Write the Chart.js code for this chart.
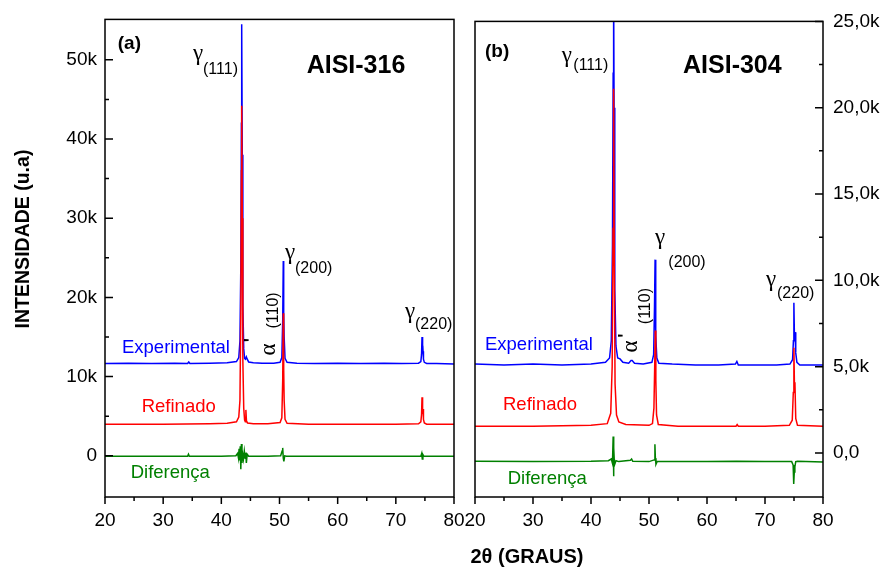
<!DOCTYPE html>
<html>
<head>
<meta charset="utf-8">
<script src="https://cdn.jsdelivr.net/npm/chart.js@4.4.0/dist/chart.umd.min.js"></script>
<style>
  html, body { margin: 0; padding: 0; background: #fff; }
  #wrap { position: relative; width: 883px; height: 573px; }
  #wrap canvas { position: absolute; left: 0; top: 0; }
</style>
</head>
<body>
<div id="wrap">
  <canvas id="chart316" width="883" height="573"></canvas>
  <canvas id="chart304" width="883" height="573"></canvas>
</div>
<script>
// eixo x (2 theta)
var xTicks = [20, 30, 40, 50, 60, 70, 80];

// AISI-316 (painel a)
var ticks316 = [0, 10000, 20000, 30000, 40000, 50000];
var tickLabels316 = ['0', '10k', '20k', '30k', '40k', '50k'];

var exp316X = [20, 24, 28, 32, 34.2, 34.4, 34.6, 38, 41, 42.6, 43.0, 43.2, 43.35, 43.45, 43.5, 43.6, 43.7, 43.85, 44.0, 44.15, 44.3, 44.45, 44.7, 45.5, 47, 49, 50.1, 50.4, 50.55, 50.65, 50.72, 50.8, 50.95, 51.3, 53, 56, 60, 64, 68, 71, 73.9, 74.3, 74.42, 74.5, 74.6, 74.68, 74.75, 74.9, 75.3, 77, 80];
var exp316Y = [11650, 11700, 11650, 11700, 11650, 11850, 11650, 11700, 11750, 11900, 12400, 14500, 24000, 42000, 54500, 38000, 19000, 13500, 12300, 12200, 12500, 12200, 11850, 11750, 11700, 11700, 11800, 12400, 17000, 24600, 18000, 15000, 12300, 11800, 11700, 11650, 11700, 11650, 11700, 11650, 11700, 11900, 12800, 15000, 12900, 13200, 12200, 11800, 11650, 11650, 11600];

var ref316X = [20, 30, 38, 41, 42.6, 43.0, 43.2, 43.35, 43.45, 43.5, 43.6, 43.7, 43.85, 44.0, 44.12, 44.22, 44.32, 44.5, 45.5, 48, 50.1, 50.4, 50.55, 50.65, 50.72, 50.8, 50.95, 51.3, 55, 60, 70, 73.9, 74.3, 74.42, 74.5, 74.6, 74.68, 74.75, 74.9, 75.3, 80];
var ref316Y = [4000, 4000, 4050, 4100, 4300, 4900, 7000, 18000, 36000, 44200, 30000, 12000, 6000, 4500, 4300, 5800, 4400, 4150, 4050, 4050, 4200, 4800, 9500, 18000, 11000, 7000, 4600, 4100, 4000, 4000, 4000, 4050, 4300, 5200, 7400, 5300, 5900, 4600, 4150, 4000, 4000];

var dif316X = [20, 28, 34.2, 34.35, 34.5, 40, 42.5, 42.8, 42.95, 43.05, 43.15, 43.25, 43.35, 43.45, 43.55, 43.65, 43.8, 43.95, 44.1, 44.2, 44.3, 44.45, 44.7, 48, 50.2, 50.45, 50.55, 50.65, 50.75, 50.9, 51.2, 60, 70, 74.3, 74.45, 74.55, 74.65, 74.8, 80];
var dif316Y = [-50, -50, -50, 200, -50, -50, 0, 300, -300, 900, -600, 1200, -1700, 1500, -900, 300, -400, 600, -300, 400, -900, 200, -50, -50, 0, 600, 1000, -300, -700, 0, -50, -50, -50, -50, 300, -400, 150, -50, -50];

// AISI-304 (painel b)
var ticks304 = [0, 5000, 10000, 15000, 20000, 25000];
var tickLabels304 = ['0,0', '5,0k', '10,0k', '15,0k', '20,0k', '25,0k'];

var exp304X = [20, 25, 30, 35, 40, 42.5, 43.2, 43.5, 43.7, 43.82, 43.9, 43.98, 44.1, 44.3, 44.6, 45.0, 45.5, 46.5, 46.9, 47.1, 47.5, 49, 50.5, 50.8, 50.95, 51.05, 51.12, 51.2, 51.35, 51.7, 54, 58, 62, 64.9, 65.15, 65.4, 68, 72, 74.3, 74.75, 74.9, 74.98, 75.08, 75.18, 75.3, 75.5, 76, 80];
var exp304Y = [5150, 5100, 5150, 5100, 5150, 5250, 5500, 6500, 12000, 22000, 27000, 20000, 9500, 6200, 5500, 5450, 5250, 5200, 5350, 5350, 5200, 5150, 5250, 5700, 8500, 11200, 8000, 6800, 5500, 5200, 5150, 5100, 5100, 5150, 5300, 5100, 5100, 5100, 5150, 5400, 6500, 8700, 6600, 7000, 5800, 5250, 5100, 5100];

var ref304X = [20, 30, 40, 42.8, 43.4, 43.65, 43.8, 43.9, 44.0, 44.15, 44.4, 44.8, 46, 50, 50.6, 50.85, 50.98, 51.08, 51.18, 51.3, 51.6, 55, 60, 65, 65.2, 65.4, 70, 74.2, 74.7, 74.88, 74.98, 75.08, 75.16, 75.3, 75.6, 80];
var ref304Y = [1550, 1550, 1600, 1700, 2300, 5000, 13000, 21100, 12000, 4000, 2200, 1800, 1650, 1600, 1700, 2600, 5000, 7100, 4200, 2200, 1650, 1550, 1550, 1550, 1650, 1550, 1550, 1600, 1900, 3500, 6100, 3800, 4100, 2000, 1600, 1550];

var dif304X = [20, 30, 40, 43.0, 43.5, 43.7, 43.82, 43.88, 43.95, 44.05, 44.3, 44.8, 46.8, 47.0, 47.2, 50, 50.9, 51.02, 51.1, 51.2, 51.4, 60, 65.1, 70, 74.6, 74.85, 74.95, 75.05, 75.15, 75.3, 75.6, 80];
var dif304Y = [-480, -500, -480, -450, -350, -600, 950, -1350, 300, -700, -450, -500, -420, -350, -480, -500, -400, 500, -300, -650, -500, -500, -480, -500, -500, -700, -1800, -1100, -800, -500, -480, -520];

var SANS = '"Liberation Sans", Arial, sans-serif';
var SERIF = '"Liberation Serif", "Times New Roman", serif';
Chart.defaults.font.family = SANS;
Chart.defaults.color = '#000';

function pts(xs, ys) {
  return xs.map(function (x, i) { return { x: x, y: ys[i] }; });
}

// moldura, marcas dos eixos e anotacoes
var panelDecor = {
  id: 'panelDecor',
  afterDatasetsDraw: function (chart, args, opts) {
    var ctx = chart.ctx, a = chart.chartArea;
    var sx = chart.scales.x, sy = chart.scales.y;
    ctx.save();
    ctx.strokeStyle = '#000';
    ctx.lineWidth = 1.5;
    ctx.strokeRect(a.left, a.top, a.right - a.left, a.bottom - a.top);
    ctx.beginPath();
    xTicks.forEach(function (v, i) {
      var p = sx.getPixelForValue(v);
      ctx.moveTo(p, a.bottom); ctx.lineTo(p, a.bottom + 7);
      if (i < xTicks.length - 1) {
        var m = sx.getPixelForValue(v + 5);
        ctx.moveTo(m, a.bottom); ctx.lineTo(m, a.bottom + 4);
      }
    });
    var edge = opts.side === 'left' ? a.left : a.right;
    var dir = opts.side === 'left' ? 1 : -1;
    var step = opts.ticks[1] - opts.ticks[0];
    opts.ticks.forEach(function (v) {
      var p = sy.getPixelForValue(v);
      ctx.moveTo(edge, p); ctx.lineTo(edge + dir * 8, p);
      [v - step / 2, v + step / 2].forEach(function (mv) {
        var mp = sy.getPixelForValue(mv);
        if (mp > a.top + 3 && mp < a.bottom - 3 && (mv > v || v === opts.ticks[0])) {
          ctx.moveTo(edge, mp); ctx.lineTo(edge + dir * 4, mp);
        }
      });
    });
    ctx.stroke();

    opts.notes.forEach(function (n) {
      ctx.save();
      ctx.translate(sx.getPixelForValue(n.x), sy.getPixelForValue(n.y));
      if (n.rot) ctx.rotate(-Math.PI / 2);
      ctx.font = n.font;
      ctx.fillStyle = n.color || '#000';
      ctx.textAlign = n.align || 'left';
      ctx.textBaseline = n.base || 'alphabetic';
      ctx.fillText(n.text, 0, 0);
      ctx.restore();
    });
    (opts.figText || []).forEach(function (n) {
      ctx.save();
      ctx.translate(n.px, n.py);
      if (n.rot) ctx.rotate(-Math.PI / 2);
      ctx.font = n.font;
      ctx.fillStyle = '#000';
      ctx.textAlign = 'center';
      ctx.textBaseline = 'middle';
      ctx.fillText(n.text, 0, 0);
      ctx.restore();
    });
    ctx.restore();
  }
};

var gFont = '23px ' + SERIF;
var subFont = '16px ' + SANS;
var serFont = '18.5px ' + SANS;

var notes316 = [
  { text: '(a)', x: 22.2, y: 52000, font: 'bold 19px ' + SANS, base: 'middle' },
  { text: 'AISI-316', x: 63.15, y: 49150, font: 'bold 25px ' + SANS, base: 'middle', align: 'center' },
  { text: 'γ', x: 35.13, y: 50000, font: gFont },
  { text: '(111)', x: 36.85, y: 48150, font: subFont },
  { text: 'γ', x: 50.95, y: 24870, font: gFont },
  { text: '(200)', x: 52.67, y: 23110, font: subFont },
  { text: 'γ', x: 71.58, y: 17450, font: gFont },
  { text: '(220)', x: 73.3, y: 16070, font: subFont },
  { text: 'α', x: 49.23, y: 12660, font: gFont, rot: true },
  { text: '\'', x: 46.13, y: 14340, font: 'bold 18px ' + SANS, rot: true },
  { text: '(110)', x: 49.74, y: 16070, font: subFont, rot: true },
  { text: 'Experimental', x: 22.92, y: 13670, font: serFont, base: 'middle', color: '#0000ff' },
  { text: 'Refinado', x: 26.31, y: 6130, font: serFont, base: 'middle', color: '#ff0000' },
  { text: 'Diferença', x: 24.42, y: -2180, font: serFont, base: 'middle', color: '#008000' }
];

var notes304 = [
  { text: '(b)', x: 21.72, y: 23260, font: 'bold 19px ' + SANS, base: 'middle' },
  { text: 'AISI-304', x: 64.37, y: 22390, font: 'bold 25px ' + SANS, base: 'middle', align: 'center' },
  { text: 'γ', x: 34.95, y: 22650, font: gFont },
  { text: '(111)', x: 36.95, y: 22190, font: subFont },
  { text: 'γ', x: 51.03, y: 12120, font: gFont },
  { text: '(200)', x: 53.33, y: 10800, font: subFont },
  { text: 'γ', x: 70.17, y: 9650, font: gFont },
  { text: '(220)', x: 72.07, y: 8960, font: subFont },
  { text: 'α', x: 47.93, y: 5820, font: gFont, rot: true },
  { text: '\'', x: 46.98, y: 6680, font: 'bold 18px ' + SANS, rot: true },
  { text: '(110)', x: 50.17, y: 7460, font: subFont, rot: true },
  { text: 'Experimental', x: 21.72, y: 6250, font: serFont, base: 'middle', color: '#0000ff' },
  { text: 'Refinado', x: 24.83, y: 2800, font: serFont, base: 'middle', color: '#ff0000' },
  { text: 'Diferença', x: 25.64, y: -1520, font: serFont, base: 'middle', color: '#008000' }
];

function makePanel(id, side, yMin, yMax, yTicks, yLabels, exp, ref, dif, notes, figText) {
  var left = side === 'left';
  return new Chart(document.getElementById(id), {
    type: 'line',
    data: {
      datasets: [
        { label: 'Refinado', data: ref, borderColor: '#ff0000', borderWidth: 1.5 },
        { label: 'Experimental', data: exp, borderColor: '#0000ff', borderWidth: 1.5 },
        { label: 'Diferença', data: dif, borderColor: '#008000', borderWidth: 1.5 }
      ]
    },
    options: {
      responsive: false,
      animation: false,
      devicePixelRatio: 1,
      layout: { padding: { top: 18, bottom: 0, left: left ? 0 : 475, right: left ? 429 : 0 } },
      elements: { point: { radius: 0 }, line: { tension: 0 } },
      plugins: {
        legend: { display: false },
        tooltip: { enabled: false },
        panelDecor: { side: side, ticks: yTicks, notes: notes, figText: figText }
      },
      scales: {
        x: {
          type: 'linear', min: 20, max: 80,
          grid: { display: false, drawTicks: false },
          border: { display: false },
          afterBuildTicks: function (s) { s.ticks = xTicks.map(function (v) { return { value: v }; }); },
          afterFit: function (s) { s.height = 76; },
          ticks: { font: { size: 19 }, padding: 12, maxRotation: 0, autoSkip: false }
        },
        y: {
          type: 'linear', position: side, min: yMin, max: yMax,
          grid: { display: false, drawTicks: false },
          border: { display: false },
          afterBuildTicks: function (s) { s.ticks = yTicks.map(function (v) { return { value: v }; }); },
          afterFit: function (s) { s.width = left ? 105 : 60; },
          ticks: {
            font: { size: 19 }, padding: left ? 8 : 10, autoSkip: false,
            callback: function (v, i) { return yLabels[i]; }
          }
        }
      }
    },
    plugins: [panelDecor]
  });
}

makePanel('chart316', 'left', -5200, 55100, ticks316, tickLabels316,
  pts(exp316X, exp316Y), pts(ref316X, ref316Y), pts(dif316X, dif316Y), notes316,
  [{ text: 'INTENSIDADE (u.a)', px: 23.5, py: 239, rot: true, font: 'bold 19.5px ' + SANS }]);

makePanel('chart304', 'right', -2550, 25000, ticks304, tickLabels304,
  pts(exp304X, exp304Y), pts(ref304X, ref304Y), pts(dif304X, dif304Y), notes304,
  [{ text: '2θ (GRAUS)', px: 527, py: 557, font: 'bold 20px ' + SANS }]);
</script>
</body>
</html>
